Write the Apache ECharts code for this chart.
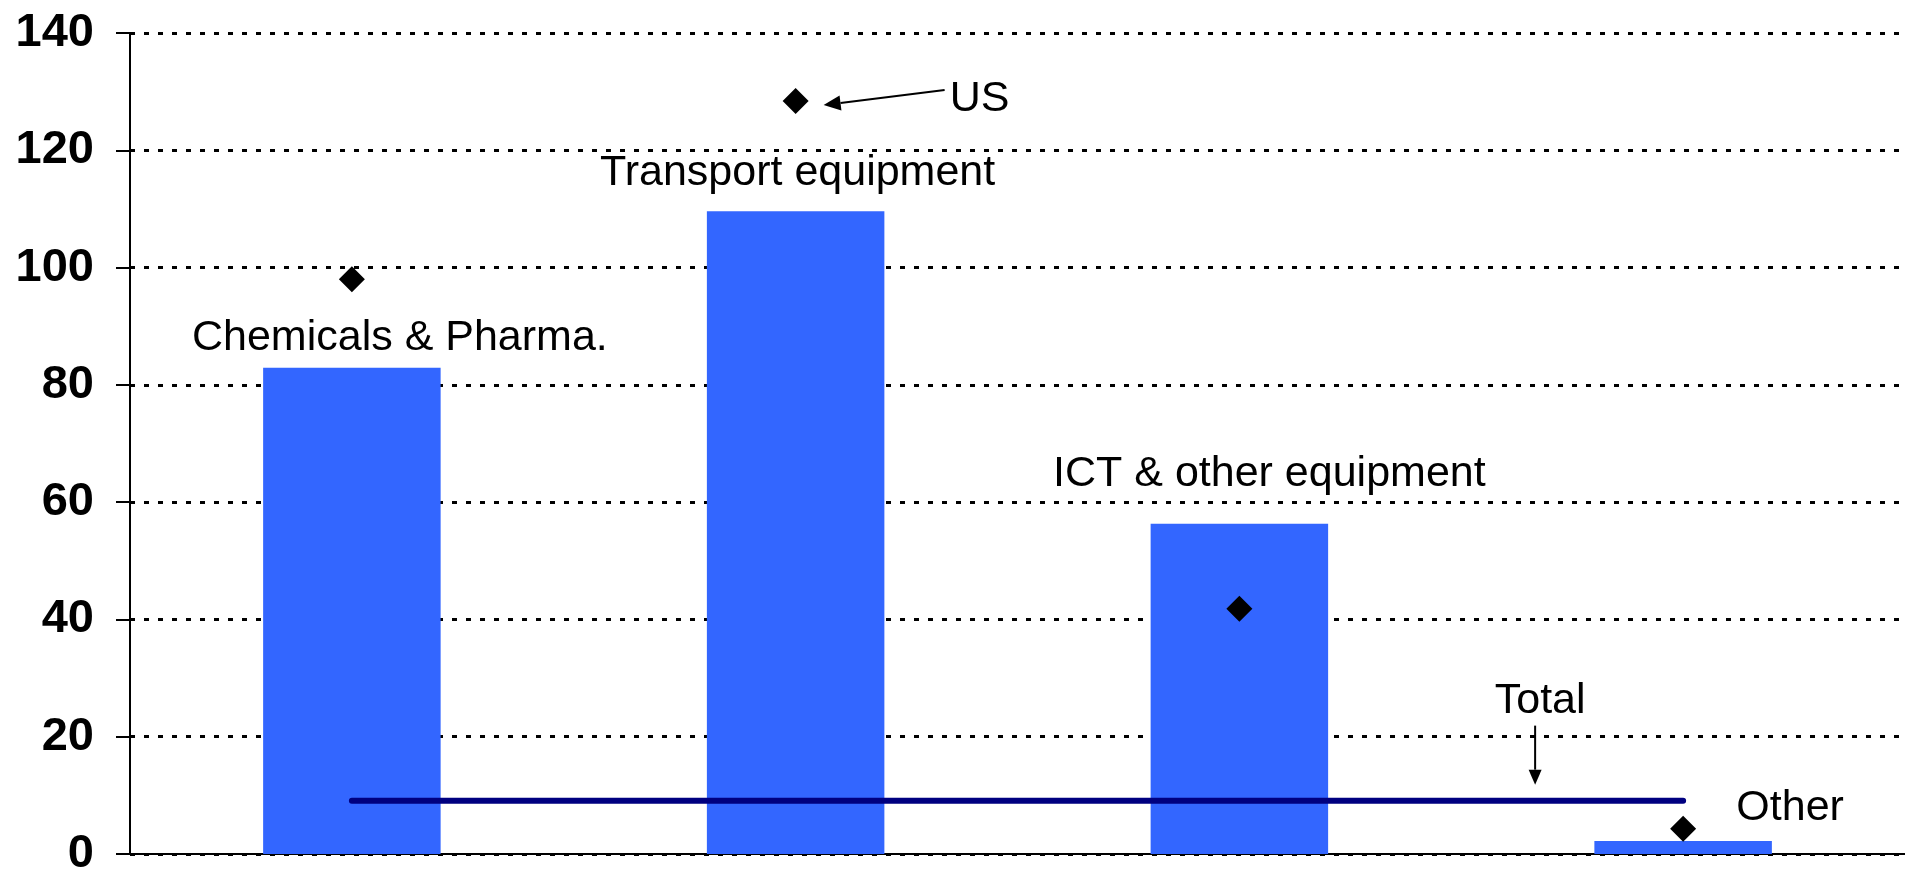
<!DOCTYPE html>
<html>
<head>
<meta charset="utf-8">
<script src="https://cdn.jsdelivr.net/npm/echarts@6/dist/echarts.min.js"></script>
<style>
  html, body { margin: 0; padding: 0; background: #fff; }
  #chart { width: 1905px; height: 870px; }
</style>
</head>
<body>
<div id="chart"></div>
<script>
// sectors on the x axis
const categories = ['Chemicals & Pharma.', 'Transport equipment', 'ICT & other equipment', 'Other'];
// bar values
const barValues = [82.9, 109.6, 56.3, 2.2];
// US markers (diamonds)
const usValues = [98.0, 128.4, 41.8, 4.3];
// total level line
const totalValues = [9.1, 9.1, 9.1, 9.1];

const FONT = '"Liberation Sans", Arial, sans-serif';

const chart = echarts.init(document.getElementById('chart'));

chart.setOption({
  animation: false,
  backgroundColor: '#fff',
  grid: { left: 130, right: 0, top: 33, bottom: 16, containLabel: false, outerBoundsMode: 'none' },
  xAxis: {
    type: 'category',
    data: categories,
    boundaryGap: true,
    axisLine: { lineStyle: { color: '#000', width: 2 } },
    axisTick: { show: false },
    axisLabel: { show: false },
    splitLine: { show: false }
  },
  yAxis: {
    type: 'value',
    min: 0,
    max: 140,
    interval: 20,
    axisLine: { show: true, lineStyle: { color: '#000', width: 2 } },
    axisTick: { show: true, length: 14, lineStyle: { color: '#000', width: 2 } },
    axisLabel: { color: '#000', fontSize: 47, fontWeight: 'bold', fontFamily: FONT, margin: 36 },
    splitLine: { lineStyle: { color: '#000', width: 3, type: [5, 9] } }
  },
  series: [
    {
      name: 'Sectors',
      type: 'bar',
      data: barValues,
      barWidth: '40%',
      itemStyle: { color: '#3366FF' }
    },
    {
      name: 'Total',
      type: 'line',
      data: totalValues,
      showSymbol: false,
      lineStyle: { color: '#000080', width: 6, cap: 'round' }
    },
    {
      name: 'US',
      type: 'scatter',
      data: usValues,
      symbol: 'diamond',
      symbolSize: 26,
      itemStyle: { color: '#000', opacity: 1 }
    }
  ]
});

// annotations anchored on data points
const px = (i, v) => chart.convertToPixel({ gridIndex: 0 }, [i, v]);

const textEl = (x, y, text, align) => ({
  type: 'text',
  x: x, y: y,
  style: {
    text: text,
    font: '43px ' + FONT,
    fill: '#000',
    textAlign: align || 'center',
    textVerticalAlign: 'middle'
  }
});

const arrowEls = (x1, y1, x2, y2, len, half) => {
  const a = Math.atan2(y2 - y1, x2 - x1);
  const bx = x2 - len * Math.cos(a), by = y2 - len * Math.sin(a);
  const nx = -Math.sin(a) * half, ny = Math.cos(a) * half;
  return [
    { type: 'line', shape: { x1: x1, y1: y1, x2: bx, y2: by }, style: { stroke: '#000', lineWidth: 2 } },
    { type: 'polygon', shape: { points: [[x2, y2], [bx + nx, by + ny], [bx - nx, by - ny]] }, style: { fill: '#000' } }
  ];
};

const b0 = px(0, barValues[0]);
const b1 = px(1, barValues[1]);
const b2 = px(2, barValues[2]);
const b3 = px(3, barValues[3]);
const us1 = px(1, usValues[1]);
const tot = px(3, totalValues[3]);

const graphics = [
  textEl(b0[0] + 48, b0[1] - 30, categories[0]),
  textEl(b1[0] + 2, b1[1] - 38, categories[1]),
  textEl(b2[0] + 30, b2[1] - 50, categories[2]),
  textEl(b3[0] + 107, b3[1] - 33, categories[3]),
  textEl(us1[0] + 154, us1[1] - 2, 'US', 'left'),
  textEl(tot[0] - 143, tot[1] - 99, 'Total')
].concat(
  arrowEls(us1[0] + 149, us1[1] - 11, us1[0] + 28, us1[1] + 4, 17, 7.5),
  arrowEls(tot[0] - 148, tot[1] - 75, tot[0] - 148, tot[1] - 16, 15, 6.5)
);

chart.setOption({ graphic: { elements: graphics } });
</script>
</body>
</html>
